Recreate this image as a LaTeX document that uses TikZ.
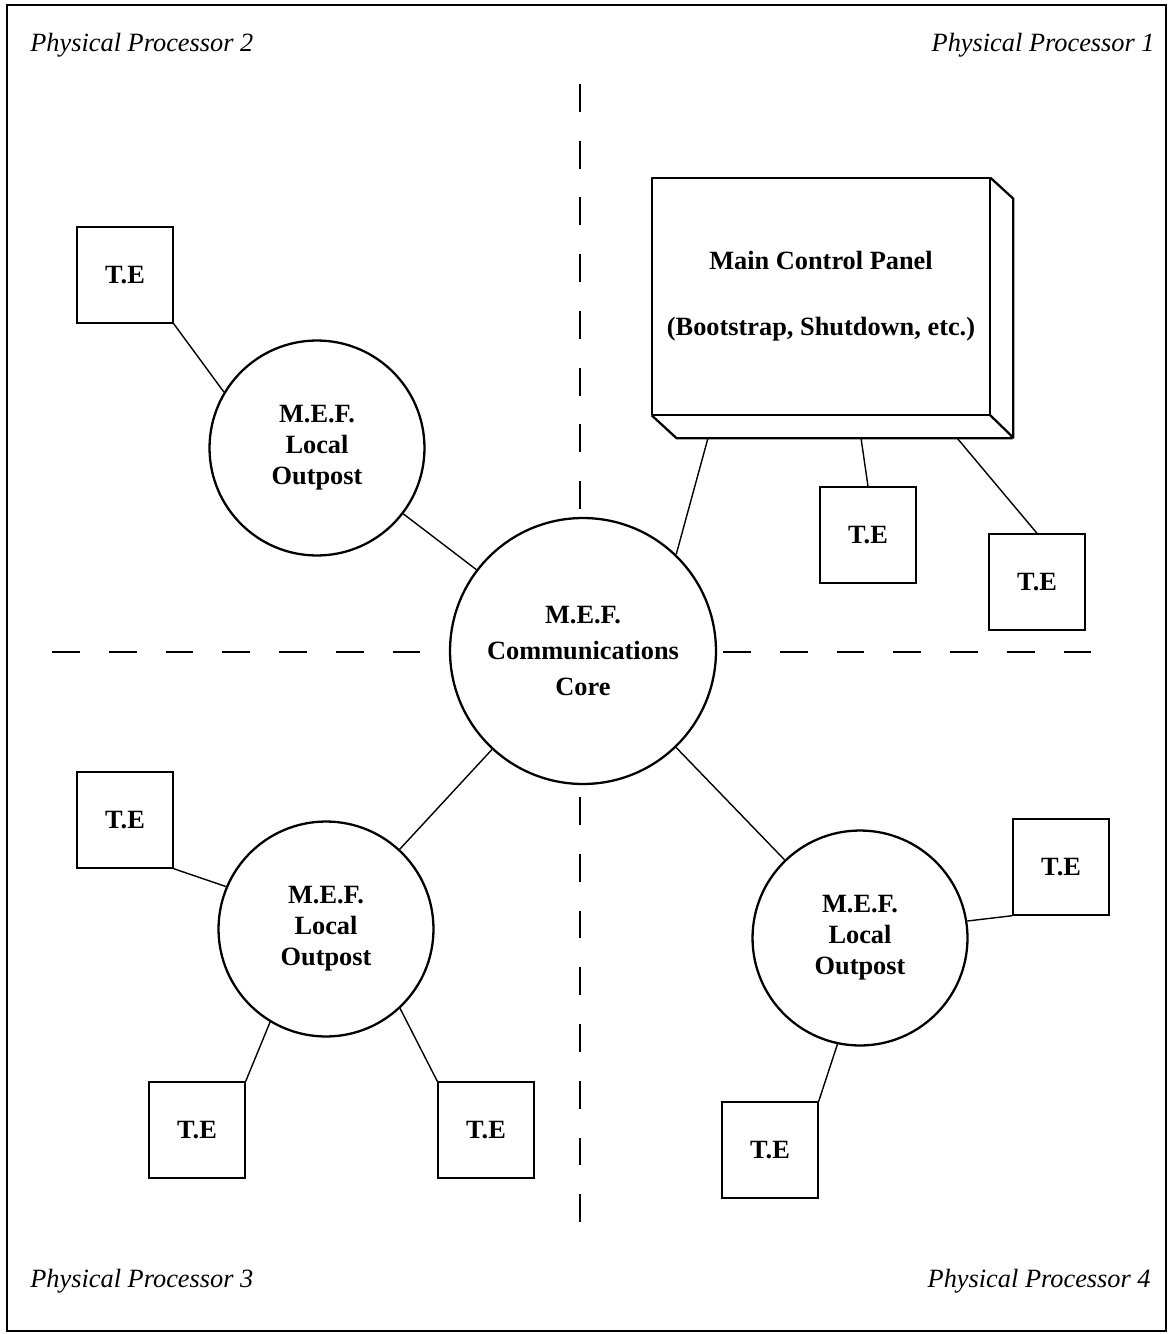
\documentclass[tikz,border=0pt]{standalone}
\usepackage{fontspec}
\setmainfont{Liberation Serif}

\begin{document}
\begin{tikzpicture}[x=0.02cm,y=-0.02cm,
    every node/.style={font=\fontsize{15}{17.5}\selectfont\bfseries,align=center,inner sep=0pt},
    te/.style={draw=black,line width=0.8pt,minimum size=1.92cm},
    mef/.style={draw=black,line width=1.3pt,circle,minimum size=4.3cm,font=\fontsize{15}{17.6}\selectfont\bfseries},
    corner/.style={font=\fontsize{15}{17.5}\selectfont\itshape},
    divider/.style={line width=0.9pt,dash pattern=on 15.9pt off 16.4pt},
    link/.style={line width=0.8pt},
    panelline/.style={line width=1.3pt,line join=round}]
                \useasboundingbox (0,0) rectangle (1172,1334);
                \draw[line width=0.9pt] (7,5) rectangle (1166,1331);

                \node[corner,anchor=base west] (pp2) at (30,52) {Physical Processor 2};
                \node[corner,anchor=base east] (pp1) at (1155,52) {Physical Processor 1};
                \node[corner,anchor=base west] (pp3) at (30,1287) {Physical Processor 3};
                \node[corner,anchor=base east] (pp4) at (1151,1287) {Physical Processor 4};

                % quadrant dividers
                \draw[divider] (580,84) -- (580,512);
                \draw[divider] (580,797) -- (580,1225);
                \draw[divider] (52,652) -- (430,652);
                \draw[divider] (723,652) -- (1103,652);

                \node[mef,minimum size=5.32cm,font=\fontsize{15}{20.5}\selectfont\bfseries] (core) at (583,651) {M.E.F.\\Communications\\Core};
                \node[mef] (lo2) at (317,448) {M.E.F.\\Local\\Outpost};
                \node[mef] (lo3) at (326,929) {M.E.F.\\Local\\Outpost};
                \node[mef] (lo4) at (860,938) {M.E.F.\\Local\\Outpost};

                \node[te] (te1) at (125,275) {T.E};
                \node[te] (te2) at (868,535) {T.E};
                \node[te] (te3) at (1037,582) {T.E};
                \node[te] (te4) at (125,820) {T.E};
                \node[te] (te5) at (197,1130) {T.E};
                \node[te] (te6) at (486,1130) {T.E};
                \node[te] (te7) at (1061,867) {T.E};
                \node[te] (te8) at (770,1150) {T.E};

                % control panel drawn as a box
                \node[minimum width=6.76cm,minimum height=4.74cm,font=\fontsize{15}{37.4}\selectfont\bfseries] (panel) at (821,296.5) {Main Control Panel\\(Bootstrap, Shutdown, etc.)};
                \draw[panelline] (panel.south west) rectangle (panel.north east);
                \draw[panelline] (panel.north east) -- ++(23,21) -- ++(0,239) -- (panel.south east);
                \draw[panelline] (panel.south west) -- ++(25,23) -- ++(336,0);
                \coordinate (pb1) at (708,438);
                \coordinate (pb2) at (861,438);
                \coordinate (pb3) at (957,438);

                \path [link] (pb1) edge (core.46);
                \path [link] (pb2) edge (te2.north);
                \path [link] (pb3) edge (te3.north);
                \path [link] (lo2) edge (core);
                \path [link] (lo3) edge (core);
                \path [link] (lo4) edge (core);
                \path [link] (te1.south east) edge (lo2.149);
                \path [link] (te4.south east) edge (lo3.157);
                \path [link] (lo3.239) edge (te5.north east);
                \path [link] (lo3.313) edge (te6.north west);
                \path [link] (lo4.9) edge (te7.south west);
                \path [link] (lo4.258) edge (te8.north east);
            \end{tikzpicture}
\end{document}
